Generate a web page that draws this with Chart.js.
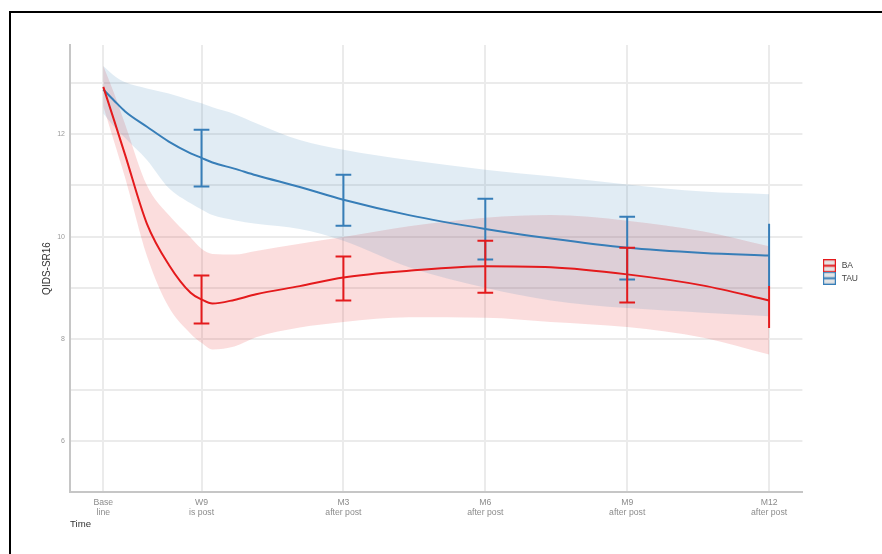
<!DOCTYPE html>
<html>
<head>
<meta charset="utf-8">
<script src="https://cdn.jsdelivr.net/npm/chart.js@4.4.1/dist/chart.umd.min.js"></script>
<style>
  html, body { margin: 0; padding: 0; background: #fff; }
  #wrap { position: relative; width: 882px; height: 554px; overflow: hidden; }
  #frame { position: absolute; left: 9px; top: 11px; width: 1000px; height: 1000px; border: 2px solid #000; }
  #chart { position: absolute; left: 0; top: 0; }
</style>
</head>
<body>
<div id="wrap">
  <div id="frame"></div>
  <canvas id="chart" width="882" height="554"></canvas>
</div>
<script>
// visits, in weeks since baseline (post = W9)
const visitWeeks = [0, 9, 22, 35, 48, 61];
const visitLabels = [['Base', 'line'], ['W9', 'is post'], ['M3', 'after post'],
                     ['M6', 'after post'], ['M9', 'after post'], ['M12', 'after post']];

// smoothed fit + ribbon
const smoothWeeks = [0, 1, 2, 4, 6, 8, 9, 10, 12, 14, 18, 22, 28, 35, 41, 48, 55, 61];
const baFit   = [12.93, 12.27, 11.6, 10.25, 9.45, 8.9, 8.77, 8.69, 8.76, 8.87, 9.03, 9.2, 9.33, 9.42, 9.40, 9.26, 9.04, 8.75];
const baLow   = [12.55, 11.85, 11.15, 9.62, 8.62, 8.1, 7.92, 7.79, 7.85, 8.03, 8.22, 8.33, 8.42, 8.41, 8.33, 8.23, 8.02, 7.69];
const baHigh  = [13.34, 12.8, 12.2, 11.0, 10.42, 9.98, 9.76, 9.66, 9.65, 9.72, 9.86, 9.99, 10.2, 10.37, 10.42, 10.31, 10.1, 9.81];
const tauFit  = [12.88, 12.66, 12.45, 12.15, 11.86, 11.63, 11.54, 11.45, 11.33, 11.2, 10.97, 10.72, 10.42, 10.15, 9.96, 9.78, 9.68, 9.63];
const tauLow  = [12.41, 12.15, 11.93, 11.5, 10.95, 10.65, 10.53, 10.42, 10.32, 10.25, 10.15, 9.92, 9.4, 9.0, 8.75, 8.6, 8.51, 8.44];
const tauHigh = [13.34, 13.15, 13.02, 12.9, 12.8, 12.67, 12.61, 12.53, 12.4, 12.22, 11.89, 11.7, 11.5, 11.31, 11.18, 11.02, 10.88, 10.83];

// error bars at follow-up visits
const barWeeks   = [9, 22, 35, 48, 61];
const baBarLow   = [8.30, 8.75, 8.90, 8.71, 8.21];
const baBarHigh  = [9.24, 9.61, 9.92, 9.78, 9.03];
const tauBarLow  = [10.98, 10.21, 9.55, 9.16, 9.03];
const tauBarHigh = [12.09, 11.21, 10.74, 10.39, 10.25];

const RED = '#E41A1C';
const BLUE = '#377EB8';
const capHalf = 0.72; // weeks

function series(ys) {
    return smoothWeeks.map((w, i) => ({ x: w, y: ys[i] }));
}

function errorBarPoints(lows, highs) {
    const pts = [];
    barWeeks.forEach((w, i) => {
        pts.push({ x: w, y: lows[i] }, { x: w, y: highs[i] }, { x: w, y: null });
        // the last visit has no caps in the original
        if (i < barWeeks.length - 1) {
            pts.push({ x: w - capHalf, y: highs[i] }, { x: w + capHalf, y: highs[i] }, { x: w, y: null });
            pts.push({ x: w - capHalf, y: lows[i] }, { x: w + capHalf, y: lows[i] }, { x: w, y: null });
        }
    });
    return pts;
}

function legendKey(color) {
    const c = document.createElement('canvas');
    c.width = 13; c.height = 13;
    const g = c.getContext('2d');
    g.fillStyle = '#e4e4e4';
    g.fillRect(0, 0, 13, 13);
    g.strokeStyle = color;
    g.lineWidth = 1.2;
    g.strokeRect(0.6, 0.6, 11.8, 11.8);
    g.lineWidth = 2;
    g.beginPath();
    g.moveTo(0.5, 6.5);
    g.lineTo(12.5, 6.5);
    g.stroke();
    return c;
}

Chart.defaults.font.family = '"Liberation Sans", Arial, sans-serif';

const lineBase = { pointRadius: 0, borderWidth: 2, fill: false, cubicInterpolationMode: 'monotone' };
const ribbonBase = { pointRadius: 0, borderWidth: 0, cubicInterpolationMode: 'monotone' };
const gridOpts = { color: '#ebebeb', lineWidth: 2, drawTicks: false };
const borderOpts = { color: '#c6c6c6', width: 2 };

new Chart(document.getElementById('chart'), {
    type: 'line',
    data: {
        datasets: [
            { label: 'BA bars', data: errorBarPoints(baBarLow, baBarHigh), borderColor: RED, borderWidth: 2,
              pointRadius: 0, tension: 0, spanGaps: false, fill: false, borderCapStyle: 'butt', order: 0 },
            { label: 'TAU bars', data: errorBarPoints(tauBarLow, tauBarHigh), borderColor: BLUE, borderWidth: 2,
              pointRadius: 0, tension: 0, spanGaps: false, fill: false, borderCapStyle: 'butt', order: 1 },
            { ...lineBase, label: 'BA', data: series(baFit), borderColor: RED, order: 2 },
            { ...lineBase, label: 'TAU', data: series(tauFit), borderColor: BLUE, order: 3 },
            { ...ribbonBase, label: 'TAU low', data: series(tauLow), fill: false, order: 4 },
            { ...ribbonBase, label: 'TAU high', data: series(tauHigh), fill: 4,
              backgroundColor: 'rgba(55,126,184,0.15)', order: 4 },
            { ...ribbonBase, label: 'BA low', data: series(baLow), fill: false, order: 5 },
            { ...ribbonBase, label: 'BA high', data: series(baHigh), fill: 6,
              backgroundColor: 'rgba(228,26,28,0.15)', order: 5 }
        ]
    },
    options: {
        responsive: false,
        animation: false,
        devicePixelRatio: 1,
        layout: { padding: { left: 0, top: 45, right: 14, bottom: 20 } },
        plugins: {
            tooltip: { enabled: false },
            legend: {
                position: 'right',
                align: 'center',
                fullSize: false,
                // blank title only nudges the keys down a little
                title: { display: true, text: ' ', padding: 0, font: { size: 5.8 } },
                labels: {
                    usePointStyle: true,
                    pointStyleWidth: 16,
                    padding: 4,
                    color: '#444',
                    font: { size: 8.5 },
                    generateLabels: () => [
                        { text: 'BA', pointStyle: legendKey(RED), fillStyle: RED, strokeStyle: RED,
                          lineWidth: 0, hidden: false, fontColor: '#444', datasetIndex: 2 },
                        { text: 'TAU', pointStyle: legendKey(BLUE), fillStyle: BLUE, strokeStyle: BLUE,
                          lineWidth: 0, hidden: false, fontColor: '#444', datasetIndex: 3 }
                    ]
                }
            }
        },
        scales: {
            x: {
                type: 'linear',
                min: -3.05,
                max: 64.05,
                afterBuildTicks: s => { s.ticks = visitWeeks.map(v => ({ value: v })); },
                afterFit: s => { s.height = 42; },
                ticks: {
                    autoSkip: false,
                    maxRotation: 0,
                    padding: 6,
                    color: '#8c8c8c',
                    font: { size: 8.7, lineHeight: 1.1 },
                    callback: v => visitLabels[visitWeeks.indexOf(v)]
                },
                grid: gridOpts,
                border: borderOpts,
                title: { display: true, text: 'Time', align: 'start', color: '#333',
                         font: { size: 9.6 }, padding: { top: 0, bottom: 4 } }
            },
            y: {
                min: 5,
                max: 13.75,
                afterFit: s => { s.width = 70; },
                ticks: {
                    stepSize: 1,
                    includeBounds: false,
                    padding: 5,
                    color: '#9a9a9a',
                    font: { size: 7 },
                    callback: v => (v % 2 === 0 ? v : '')
                },
                grid: gridOpts,
                border: borderOpts,
                title: { display: true, text: 'QIDS-SR16', color: '#333',
                         font: { size: 10 }, padding: { top: 41, bottom: 0 } }
            },
            // empty axis that only keeps the legend away from the panel
            spacer: {
                position: 'right',
                grid: { display: false },
                border: { display: false },
                ticks: { display: false },
                afterFit: s => { s.width = 15; }
            }
        }
    }
});
</script>
</body>
</html>
